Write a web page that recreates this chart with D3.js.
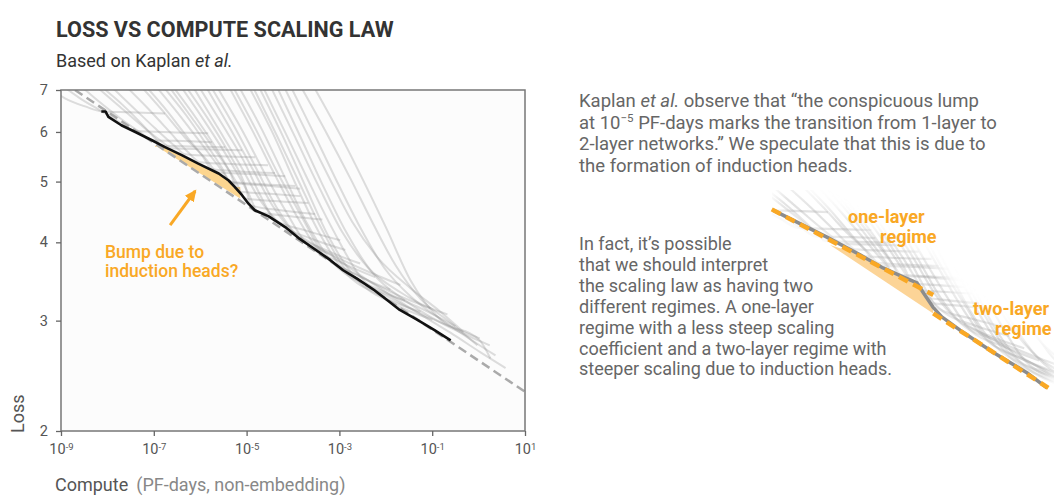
<!DOCTYPE html>
<html>
<head>
<meta charset="utf-8">
<script src="https://cdn.jsdelivr.net/npm/d3@7"></script>
<style>
  body { margin: 0; background: #fff; }
  svg text { font-family: Roboto, "Noto Sans", sans-serif; }
</style>
</head>
<body>
<div id="chart"></div>
<script>
// ---- data (compute in PF-days, loss) ----
var lossTicks = [2, 3, 4, 5, 6, 7];
var computeTicks = [1e-9, 1e-7, 1e-5, 1e-3, 1e-1, 1e1];
var computeTickExp = ["-9", "-7", "-5", "-3", "-1", "1"];

// lower envelope of all runs (black line)
var frontier = [
    [7.4e-9, 6.47], [9.1e-9, 6.47], [1.05e-8, 6.34], [2.0e-8, 6.15], [4.0e-8, 6.00],
    [9.1e-8, 5.82], [1.7e-7, 5.68], [4.0e-7, 5.51], [9.1e-7, 5.34], [2.5e-6, 5.15],
    [4.1e-6, 5.02], [5.6e-6, 4.90], [7.9e-6, 4.76], [1.1e-5, 4.61], [1.5e-5, 4.50],
    [3.0e-5, 4.40], [6.8e-5, 4.23], [1.4e-4, 4.05], [2.8e-4, 3.91], [6.3e-4, 3.75],
    [1.2e-3, 3.61], [2.4e-3, 3.50], [5.5e-3, 3.36], [1.1e-2, 3.23], [2.0e-2, 3.12],
    [4.7e-2, 3.01], [0.11, 2.90], [0.25, 2.79]
];

// power law fit (gray dashed)
var fitLine = [[2e-9, 7.0], [10, 2.31]];
// fit line under the bump (bottom edge of orange fill)
var bumpFit = [[1.07e-7, 5.71], [7.3e-6, 4.70]];

// individual learning curves (light gray)
var grayCurves = [
    [[5.8e-10, 7.04], [1.22e-9, 6.79], [3.3e-9, 6.59], [7.7e-9, 6.47], [3.1e-8, 6.45], [1.75e-7, 6.42]],
    [[1.05e-9, 7.12], [2.57e-9, 6.79], [6.9e-9, 6.50], [1.7e-8, 6.24], [4.0e-8, 6.02], [2.9e-7, 5.99], [1.49e-6, 5.97]],
    [[2.57e-9, 7.12], [6.9e-9, 6.69], [1.88e-8, 6.31], [5.1e-8, 5.99], [9.2e-8, 5.82], [6.1e-7, 5.80], [1.81e-6, 5.78]],
    [[5.4e-9, 7.12], [1.7e-8, 6.62], [5.1e-8, 6.17], [1.37e-7, 5.82], [2.5e-7, 5.65], [1.28e-6, 5.63], [8.0e-6, 5.61]],
    [[6.9e-9, 7.12], [2.07e-8, 6.64], [5.6e-8, 6.17], [1.07e-7, 5.86], [1.51e-7, 5.71], [7.8e-7, 5.69], [3.45e-6, 5.67]],
    [[1.14e-8, 7.12], [3.4e-8, 6.59], [1.07e-7, 6.08], [2.9e-7, 5.69], [4.7e-7, 5.53], [2.7e-6, 5.49], [1.53e-5, 5.47]],
    [[2.4e-8, 7.12], [7.5e-8, 6.54], [2.25e-7, 5.99], [5.5e-7, 5.57], [1.0e-6, 5.37], [5.7e-6, 5.33], [2.9e-5, 5.31]],
    [[5.1e-8, 7.12], [1.51e-7, 6.50], [4.7e-7, 5.88], [1.28e-6, 5.45], [2.44e-6, 5.17], [1.32e-5, 5.14], [6.8e-5, 5.10]],
    [[6.5e-8, 7.12], [2.04e-7, 6.45], [5.5e-7, 5.86], [1.16e-6, 5.47], [1.81e-6, 5.23], [7.3e-6, 5.19], [4.1e-5, 5.16]],
    [[1.07e-7, 7.12], [3.3e-7, 6.43], [1.0e-6, 5.78], [2.7e-6, 5.25], [4.9e-6, 4.98], [2.5e-5, 4.93], [1.43e-4, 4.87]],
    [[1.51e-7, 7.12], [4.98e-7, 6.38], [1.41e-6, 5.71], [2.98e-6, 5.25], [4.4e-6, 5.00], [2.17e-5, 4.95], [1.12e-4, 4.92]],
    [[2.04e-7, 7.12], [6.7e-7, 6.31], [2.1e-6, 5.61], [5.7e-6, 5.02], [9.3e-6, 4.70], [4.8e-5, 4.65], [2.13e-4, 4.62]],
    [[2.48e-7, 7.12], [8.2e-7, 6.31], [2.21e-6, 5.65], [4.4e-6, 5.17], [6.9e-6, 4.82], [3.2e-5, 4.78], [1.43e-4, 4.74]],
    [[3.7e-7, 7.12], [1.28e-6, 6.22], [4.0e-6, 5.45], [1.08e-5, 4.80], [1.78e-5, 4.47], [9.6e-5, 4.40], [4.3e-4, 4.35]],
    [[4.7e-7, 7.12], [1.64e-6, 6.22], [4.4e-6, 5.51], [9.3e-6, 4.93], [1.26e-5, 4.58], [5.3e-5, 4.50], [3.0e-4, 4.44]],
    [[6.7e-7, 7.12], [2.44e-6, 6.08], [7.3e-6, 5.31], [1.96e-5, 4.67], [5.3e-5, 4.28], [2.36e-4, 4.06], [1.34e-3, 3.89]],
    [[9.0e-7, 7.12], [2.98e-6, 6.17], [8.5e-6, 5.41], [1.96e-5, 4.76], [4.1e-5, 4.34], [1.84e-4, 4.18], [1.04e-3, 4.03]],
    [[1.28e-6, 7.12], [4.4e-6, 6.08], [1.32e-5, 5.25], [3.6e-5, 4.58], [9.6e-5, 4.17], [5.0e-4, 3.89], [2.8e-3, 3.70]],
    [[1.64e-6, 7.12], [5.7e-6, 6.08], [1.61e-5, 5.25], [4.35e-5, 4.56], [1.24e-4, 4.09], [6.4e-4, 3.83], [4.6e-3, 3.58], [2.06e-2, 3.42]],
    [[2.2e-6, 7.12], [8.0e-6, 6.04], [2.4e-5, 5.17], [6.8e-5, 4.50], [1.84e-4, 4.00], [1.05e-3, 3.72], [5.9e-3, 3.52]],
    [[4.0e-6, 7.12], [1.32e-5, 6.04], [4.1e-5, 5.12], [1.17e-4, 4.42], [3.5e-4, 3.89], [1.9e-3, 3.58], [1.25e-2, 3.36]],
    [[4.9e-6, 7.12], [1.61e-5, 6.04], [4.8e-5, 5.14], [1.43e-4, 4.44], [4.5e-4, 3.83], [2.8e-3, 3.53], [2.06e-2, 3.28], [9.1e-2, 3.14]],
    [[6.6e-6, 7.12], [2.17e-5, 6.04], [6.8e-5, 5.06], [1.93e-4, 4.31], [6.4e-4, 3.75], [3.6e-3, 3.42], [2.6e-2, 3.23]],
    [[1.08e-5, 7.12], [3.6e-5, 5.99], [1.12e-4, 4.97], [3.5e-4, 4.17], [1.21e-3, 3.61], [7.6e-3, 3.29], [5.6e-2, 3.10]],
    [[1.32e-5, 7.12], [4.35e-5, 5.95], [1.30e-4, 5.02], [3.9e-4, 4.24], [1.41e-3, 3.61], [9.8e-3, 3.33], [5.6e-2, 3.14], [0.316, 2.94]],
    [[1.78e-5, 7.12], [5.9e-5, 5.93], [1.84e-4, 4.92], [5.8e-4, 4.09], [2.2e-3, 3.51], [1.38e-2, 3.20], [0.101, 3.01]],
    [[2.17e-5, 7.12], [6.8e-5, 5.99], [2.13e-4, 5.02], [7.0e-4, 4.21], [2.8e-3, 3.53], [1.61e-2, 3.23], [9.1e-2, 3.03], [1.06, 2.81]],
    [[3.2e-5, 7.12], [1.06e-4, 5.93], [3.5e-4, 4.93], [1.16e-3, 4.15], [4.2e-3, 3.64], [2.06e-2, 3.33], [9.1e-2, 3.14], [0.213, 3.07]],
    [[4.35e-5, 7.12], [1.36e-4, 5.95], [4.3e-4, 4.95], [1.41e-3, 4.15], [5.1e-3, 3.58], [2.6e-2, 3.23], [0.150, 2.98], [1.74, 2.74]],
    [[6.2e-5, 7.12], [1.84e-4, 6.04], [5.8e-4, 5.10], [1.9e-3, 4.31], [6.9e-3, 3.77], [3.4e-2, 3.38], [0.15, 3.10], [0.47, 2.88]],
    [[8.7e-5, 7.12], [2.6e-4, 6.04], [7.8e-4, 5.10], [2.56e-3, 4.28], [9.3e-3, 3.64], [3.74e-2, 3.26], [0.193, 2.98], [2.31, 2.64]],
    [[1.43e-4, 7.12], [5.2e-4, 5.99], [1.72e-3, 5.06], [5.1e-3, 4.31], [1.61e-2, 3.68], [5.6e-2, 3.25], [0.247, 2.98], [0.94, 2.74]],
    [[2.7e-4, 7.12], [1.05e-3, 5.93], [3.1e-3, 5.06], [1.03e-2, 4.21], [3.4e-2, 3.48], [0.15, 3.01], [1.06, 2.79], [1.8, 2.61]],
    [[1.43e-4, 4.09], [6.4e-4, 3.82], [4.6e-3, 3.46], [3.4e-2, 3.14], [0.247, 2.87], [1.1, 2.67], [3.8, 2.52]]
];

// annotation anchors (data units)
var bumpArrow = [[2.25e-7, 4.26], [7.8e-7, 4.83]];
var bumpLabel = ["Bump due to", "induction heads?"];

// inset: stylised close-up of the bump
var insetFrontier = [
    [1.16e-8, 6.47], [1.66e-7, 5.80], [8.5e-7, 5.40], [2.64e-6, 5.12], [7.1e-6, 4.94],
    [1.41e-5, 4.82], [1.9e-5, 4.64], [3.1e-5, 4.37], [4.8e-5, 4.20], [1.18e-4, 3.98],
    [6.0e-4, 3.64], [3.2e-3, 3.35], [8.6e-3, 3.15]
];
var oneLayerFit = [[1.09e-8, 6.49], [3.15e-5, 4.59]];
var twoLayerFit = [[3.15e-5, 4.26], [9.2e-3, 3.15]];
var insetBumpFit = [[1.93e-7, 5.62], [3.15e-5, 4.26]];

var noteOne = [
    [["Kaplan ", ""], ["et al.", "i"], [" observe that \u201cthe conspicuous lump", ""]],
    [["at 10", ""], ["\u22125", "sup"], [" PF-days marks the transition from 1-layer to", "down"]],
    [["2-layer networks.\u201d We speculate that this is due to", ""]],
    [["the formation of induction heads.", ""]]
];
var noteTwo = [
    "In fact, it\u2019s possible",
    "that we should interpret",
    "the scaling law as having two",
    "different regimes. A one-layer",
    "regime with a less steep scaling",
    "coefficient and a two-layer regime with",
    "steeper scaling due to induction heads."
];

var W = 1056, H = 504;
var orange = "#f9a825";

ScalingChart = {
    svg : null,
    plot : {left: 61, top: 90, right: 525, bottom: 431},
    inset : {left: 770, right: 1050, top: 209, bottom: 400},

    init : function(divName) {
        d3.selectAll(divName + ' svg').remove(); // clean
        this.svg = d3.select(divName)
            .append("svg")
            .attr("width", W)
            .attr("height", H);
        this.defs = this.svg.append("defs");

        this.drawHeader();
        this.drawMain();
        this.drawNotes();
        this.drawInset();
        return this;
    },

    drawHeader : function() {
        this.svg.append("text")
            .attr("x", 56).attr("y", 36.5)
            .attr("font-size", 21.6).attr("font-weight", 700)
            .attr("fill", "#333")
            .text("LOSS VS COMPUTE SCALING LAW");

        var sub = this.svg.append("text")
            .attr("x", 56).attr("y", 67)
            .attr("font-size", 18).attr("fill", "#333");
        sub.append("tspan").text("Based on Kaplan ");
        sub.append("tspan").attr("font-style", "italic").text("et al.");
    },

    drawMain : function() {
        var p = this.plot, svg = this.svg;

        var x = d3.scaleLog().domain([1e-9, 1e1]).range([p.left, p.right]);
        var y = d3.scaleLog().domain([2, 7]).range([p.bottom, p.top]);

        this.defs.append("clipPath").attr("id", "plot-clip")
            .append("rect")
            .attr("x", p.left).attr("y", p.top)
            .attr("width", p.right - p.left).attr("height", p.bottom - p.top);

        svg.append("rect")
            .attr("x", p.left).attr("y", p.top)
            .attr("width", p.right - p.left).attr("height", p.bottom - p.top)
            .attr("fill", "#fcfcfc");

        var line = d3.line()
            .x(function(d) { return x(d[0]); })
            .y(function(d) { return y(d[1]); });

        var g = svg.append("g").attr("clip-path", "url(#plot-clip)");

        // orange bump fill between frontier and fit
        var lo = bumpFit[0][0], hi = bumpFit[1][0];
        var top = frontier.filter(function(d) { return d[0] >= lo && d[0] <= hi; });
        var poly = [[lo, top[0][1]]].concat(top).concat([[hi, top[top.length - 1][1]]])
            .concat([bumpFit[1], bumpFit[0]]);
        g.append("path")
            .attr("d", line(poly) + "Z")
            .attr("fill", "#fcd58f");

        // learning curves
        g.selectAll(".run")
            .data(grayCurves)
            .enter().append("path")
            .attr("class", "run")
            .attr("d", line.curve(d3.curveMonotoneX))
            .attr("fill", "none")
            .attr("stroke", "#888")
            .attr("stroke-opacity", 0.28)
            .attr("stroke-width", 2);
        line.curve(d3.curveLinear);

        // fitted power law
        g.append("path")
            .attr("d", line(fitLine))
            .attr("fill", "none")
            .attr("stroke", "#aaa")
            .attr("stroke-width", 2.5)
            .attr("stroke-dasharray", "9,5");

        // frontier
        g.append("path")
            .attr("d", line(frontier))
            .attr("fill", "none")
            .attr("stroke", "#111")
            .attr("stroke-width", 2.6)
            .attr("stroke-linejoin", "round");

        // frame
        svg.append("rect")
            .attr("x", p.left).attr("y", p.top)
            .attr("width", p.right - p.left).attr("height", p.bottom - p.top)
            .attr("fill", "none")
            .attr("stroke", "#777")
            .attr("stroke-width", 1.5);

        // axes
        var yAxis = svg.append("g")
            .attr("transform", "translate(" + p.left + ",0)")
            .call(d3.axisLeft(y).tickValues(lossTicks).tickFormat(d3.format("d")).tickSize(5).tickPadding(8));
        var xAxis = svg.append("g")
            .attr("transform", "translate(0," + p.bottom + ")")
            .call(d3.axisBottom(x).tickValues(computeTicks).tickFormat("").tickSize(5).tickPadding(8));

        [yAxis, xAxis].forEach(function(a) {
            a.select(".domain").remove();
            a.attr("font-family", null);
            a.selectAll(".tick line").attr("stroke", "#666").attr("stroke-width", 1.3);
            a.selectAll(".tick text").attr("fill", "#555").attr("font-size", 14.5);
        });

        xAxis.selectAll(".tick text").each(function(d, i) {
            var t = d3.select(this);
            t.append("tspan").text("10");
            t.append("tspan").attr("dy", "-0.45em").attr("font-size", 9.5).text(computeTickExp[i]);
        });

        // axis titles
        svg.append("text")
            .attr("transform", "translate(24,433) rotate(-90)")
            .attr("font-size", 18).attr("fill", "#555")
            .text("Loss");

        var xt = svg.append("text")
            .attr("x", 55).attr("y", 491)
            .attr("font-size", 18).attr("fill", "#555");
        xt.append("tspan").text("Compute");
        xt.append("tspan").attr("fill", "#888").attr("dx", 8).text("(PF-days, non-embedding)");

        // annotation
        this.defs.append("marker")
            .attr("id", "arrow-head")
            .attr("markerUnits", "userSpaceOnUse")
            .attr("viewBox", "0 -6 12 12")
            .attr("markerWidth", 12).attr("markerHeight", 12)
            .attr("refX", 10).attr("refY", 0)
            .attr("orient", "auto")
            .append("path")
            .attr("d", "M0,-5.5L12,0L0,5.5Z")
            .attr("fill", orange);

        svg.append("path")
            .attr("d", line(bumpArrow))
            .attr("stroke", orange)
            .attr("stroke-width", 3)
            .attr("marker-end", "url(#arrow-head)");

        svg.selectAll(".bump-label")
            .data(bumpLabel)
            .enter().append("text")
            .attr("class", "bump-label")
            .attr("x", 105)
            .attr("y", function(d, i) { return 258 + i * 19; })
            .attr("font-size", 17.5).attr("font-weight", 500)
            .attr("fill", orange)
            .text(function(d) { return d; });
    },

    drawNotes : function() {
        var svg = this.svg;
        var n1 = svg.append("g").attr("fill", "#666").attr("font-size", 18.5);
        noteOne.forEach(function(parts, i) {
            var t = n1.append("text").attr("x", 579).attr("y", 107 + i * 21.5);
            parts.forEach(function(p) {
                var s = t.append("tspan").text(p[0]);
                if (p[1] == "i") s.attr("font-style", "italic");
                if (p[1] == "sup") s.attr("dy", -7).attr("font-size", 11.5);
                if (p[1] == "down") s.attr("dy", 7);
            });
        });

        svg.append("g").attr("fill", "#666").attr("font-size", 18)
            .selectAll("text")
            .data(noteTwo)
            .enter().append("text")
            .attr("x", 579)
            .attr("y", function(d, i) { return 250 + i * 20.9; })
            .text(function(d) { return d; });
    },

    drawInset : function() {
        var r = this.inset, svg = this.svg;
        var x = d3.scaleLog().domain([1e-8, 1e-2]).range([r.left, r.right]);
        var y = d3.scaleLog().domain([6.5, 3.0]).range([r.top, r.bottom]);
        var line = d3.line()
            .x(function(d) { return x(d[0]); })
            .y(function(d) { return y(d[1]); });

        // soft band above the frontier for the faded runs
        var blur = this.defs.append("filter").attr("id", "haze-blur")
            .attr("x", "-20%").attr("y", "-50%").attr("width", "140%").attr("height", "200%");
        blur.append("feGaussianBlur").attr("stdDeviation", 7);
        var soft = this.defs.append("filter").attr("id", "line-soft");
        soft.append("feGaussianBlur").attr("stdDeviation", 0.7);
        var mask = this.defs.append("mask").attr("id", "haze-mask")
            .attr("maskUnits", "userSpaceOnUse")
            .attr("x", 0).attr("y", 0).attr("width", W).attr("height", H);
        mask.append("path")
            .attr("d", line(insetFrontier))
            .attr("transform", "translate(5,-13)")
            .attr("fill", "none")
            .attr("stroke", "white")
            .attr("stroke-width", 26)
            .attr("filter", "url(#haze-blur)");
        this.defs.append("clipPath").attr("id", "inset-clip")
            .append("rect")
            .attr("x", r.left + 2).attr("y", 190)
            .attr("width", r.right - r.left + 2).attr("height", 210);

        var haze = svg.append("g").attr("clip-path", "url(#inset-clip)")
            .append("g").attr("mask", "url(#haze-mask)")
            .append("g").attr("filter", "url(#line-soft)");
        haze.selectAll("path")
            .data(grayCurves)
            .enter().append("path")
            .attr("d", line.curve(d3.curveMonotoneX))
            .attr("fill", "none")
            .attr("stroke", "#999")
            .attr("stroke-opacity", 0.3)
            .attr("stroke-width", 2.2);
        line.curve(d3.curveLinear);

        // bump fill
        var lo = insetBumpFit[0][0], hi = insetBumpFit[1][0];
        var top = insetFrontier.filter(function(d) { return d[0] >= lo && d[0] <= hi; });
        var poly = [insetBumpFit[0]].concat(top).concat([insetBumpFit[1]]);
        svg.append("path")
            .attr("d", line(poly) + "Z")
            .attr("fill", "#fcd497");

        svg.append("path")
            .attr("d", line(insetFrontier))
            .attr("fill", "none")
            .attr("stroke", "#8c8c8c")
            .attr("stroke-width", 3.5)
            .attr("stroke-linejoin", "round");

        [oneLayerFit, twoLayerFit].forEach(function(f) {
            svg.append("path")
                .attr("d", line(f))
                .attr("fill", "none")
                .attr("stroke", orange)
                .attr("stroke-width", 4.5)
                .attr("stroke-dasharray", "10,6");
        });

        var labels = [
            {text: "one-layer", x: 848, y: 223},
            {text: "regime", x: 880, y: 243},
            {text: "two-layer", x: 973, y: 315},
            {text: "regime", x: 995, y: 335}
        ];
        svg.selectAll(".regime")
            .data(labels)
            .enter().append("text")
            .attr("class", "regime")
            .attr("x", function(d) { return d.x; })
            .attr("y", function(d) { return d.y; })
            .attr("font-size", 18).attr("font-weight", 700)
            .attr("fill", orange)
            .text(function(d) { return d.text; });
    }
};

ScalingChart.init("#chart");
</script>
</body>
</html>
